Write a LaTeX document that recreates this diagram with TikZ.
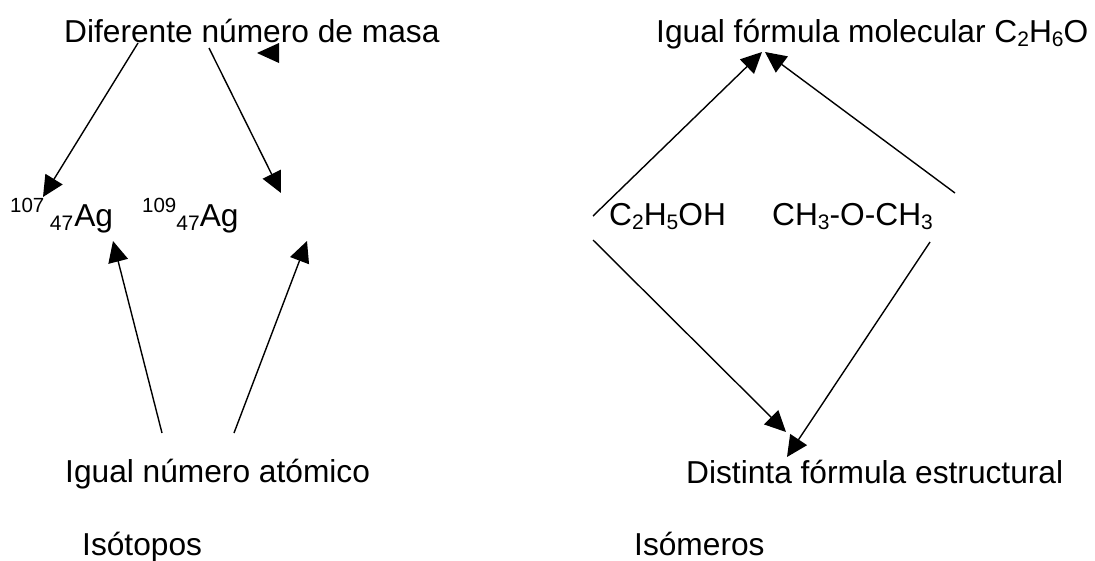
\documentclass[tikz,border=0pt]{standalone}
\usepackage{fontspec}
\setmainfont{Liberation Sans}
\usetikzlibrary{arrows.meta}
\newcommand\sbs[1]{\raisebox{-4.5pt}{\fontsize{21}{24}\selectfont #1}}
\newcommand\sps[1]{\raisebox{14pt}{\fontsize{20.5}{24}\selectfont #1}}
\begin{document}
\begin{tikzpicture}[x=1pt,y=-1pt,
  lbl/.style={anchor=base west,inner sep=0pt,font=\fontsize{31.7}{38}\selectfont},
  arr/.style={line width=1.4pt,-{Triangle[length=21pt,width=20pt]}}]
\useasboundingbox (0,0) rectangle (1095,560);
% texts
\node[lbl] (dif) at (64,42) {Diferente número de masa};
\node[lbl] (ag107) at (10,226) {\sps{107}\hspace{5.5pt}\sbs{47}\hspace{1pt}Ag};
\node[lbl] (ag109) at (142,226) {\sps{109}\sbs{47}Ag};
\node[lbl] (ign) at (65,482) {Igual número atómico};
\node[lbl] (isot) at (82,555) {Isótopos};
\node[lbl] (igf) at (656,42) {Igual fórmula molecular C\sbs{2}H\sbs{6}O};
\node[lbl] (eth) at (609,225) {C\sbs{2}H\sbs{5}OH};
\node[lbl] (dme) at (772,225) {CH\sbs{3}-O-CH\sbs{3}};
\node[lbl] (dfe) at (686,483) {Distinta fórmula estructural};
\node[lbl] (isom) at (634,555) {Isómeros};
% connector end points
\coordinate (a1s) at (138,43);  \coordinate (a1e) at (43,197);
\coordinate (a2s) at (209,48);  \coordinate (a2e) at (281,193);
\coordinate (a3s) at (162,433); \coordinate (a3e) at (113,241);
\coordinate (a4s) at (234,433); \coordinate (a4e) at (307,241);
\coordinate (b1s) at (593,216); \coordinate (b1e) at (762,52);
\coordinate (b2s) at (955,193); \coordinate (b2e) at (765,52);
\coordinate (b3s) at (593,240); \coordinate (b3e) at (786,432);
\coordinate (b4s) at (930,242); \coordinate (b4e) at (787,457);
\draw[arr] (a1s) -- (a1e);
\draw[arr] (a2s) -- (a2e);
\draw[arr] (a3s) -- (a3e);
\draw[arr] (a4s) -- (a4e);
\draw[arr] (b1s) -- (b1e);
\draw[arr] (b2s) -- (b2e);
\draw[arr] (b3s) -- (b3e);
\draw[arr] (b4s) -- (b4e);
% stray arrowhead
\fill (257,53) -- (279,43) -- (279,63) -- cycle;
\end{tikzpicture}
\end{document}
